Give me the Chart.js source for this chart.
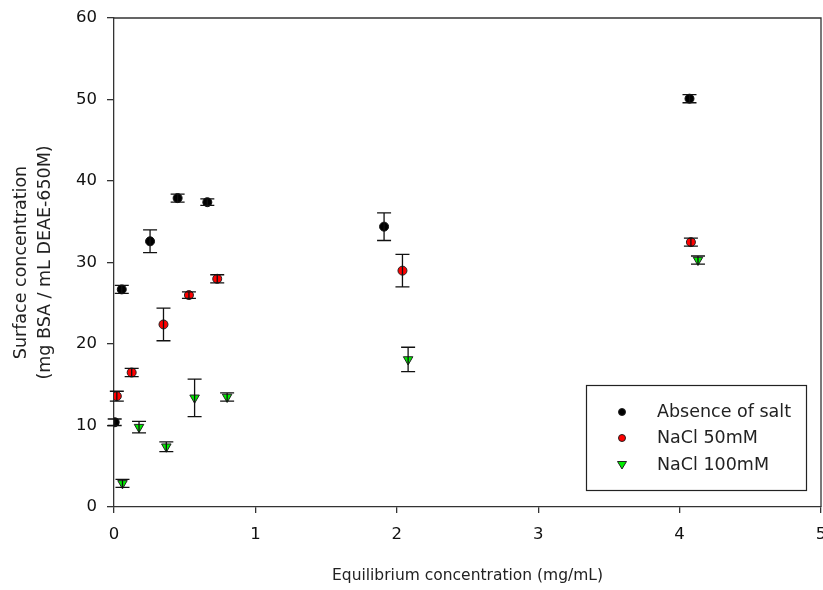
<!DOCTYPE html>
<html>
<head>
<meta charset="utf-8">
<script src="https://cdn.jsdelivr.net/npm/chart.js@4.4.0/dist/chart.umd.min.js"></script>
<style>
  html, body { margin: 0; padding: 0; background: #fff; }
  #wrap { width: 823px; height: 590px; }
</style>
</head>
<body>
<div id="wrap"><canvas id="myChart"></canvas></div>
<script>
// Absence of salt
const xNoSalt = [0.005, 0.055, 0.255, 0.45, 0.66, 1.91, 4.07]
const yNoSalt = [10.4, 26.7, 32.6, 37.9, 37.4, 34.4, 50.1]
const eNoSalt = [0.4, 0.5, 1.4, 0.5, 0.4, 1.7, 0.5]

// NaCl 50mM
const xNaCl50 = [0.02, 0.125, 0.35, 0.53, 0.73, 2.04, 4.08]
const yNaCl50 = [13.6, 16.5, 22.4, 26.0, 28.0, 29.0, 32.5]
const eNaCl50 = [0.6, 0.5, 2.0, 0.4, 0.5, 2.0, 0.5]

// NaCl 100mM
const xNaCl100 = [0.06, 0.177, 0.37, 0.57, 0.80, 2.08, 4.13]
const yNaCl100 = [2.9, 9.8, 7.4, 13.4, 13.5, 18.1, 30.3]
const eNaCl100 = [0.5, 0.7, 0.6, 2.3, 0.5, 1.5, 0.5]

const seriesNames = ['Absence of salt', 'NaCl 50mM', 'NaCl 100mM']
const xTicks = [0, 1, 2, 3, 4, 5]
const yTicks = [0, 10, 20, 30, 40, 50, 60]

const FONT = '"DejaVu Sans", sans-serif'

function pts(xs, ys, es) {
    const out = []
    for (let i = 0; i < xs.length; i++) {
        out[i] = { x: xs[i], y: ys[i], err: es[i] }
    }
    return out
}

// top + right frame lines
const frame = {
    id: 'frame',
    beforeDatasetsDraw(chart) {
        const a = chart.chartArea
        const ctx = chart.ctx
        ctx.save()
        ctx.strokeStyle = '#333'
        ctx.lineWidth = 1.3
        ctx.beginPath()
        ctx.moveTo(a.left, a.top); ctx.lineTo(a.right, a.top); ctx.lineTo(a.right, a.bottom)
        ctx.stroke()
        ctx.restore()
    }
}

const errorBars = {
    id: 'errorBars',
    afterDatasetsDraw(chart) {
        const ctx = chart.ctx
        const xs = chart.scales.x
        const ys = chart.scales.y
        ctx.save()
        ctx.strokeStyle = '#111'
        ctx.lineWidth = 1.3
        chart.data.datasets.forEach(ds => {
            ds.data.forEach(p => {
                const px = xs.getPixelForValue(p.x)
                const top = ys.getPixelForValue(p.y + p.err)
                const bot = ys.getPixelForValue(p.y - p.err)
                ctx.beginPath()
                ctx.moveTo(px, top); ctx.lineTo(px, bot)
                ctx.moveTo(px - 7, top); ctx.lineTo(px + 7, top)
                ctx.moveTo(px - 7, bot); ctx.lineTo(px + 7, bot)
                ctx.stroke()
            })
        })
        ctx.restore()
    }
}

const boxLegend = {
    id: 'boxLegend',
    afterDraw(chart) {
        const ctx = chart.ctx
        ctx.save()
        ctx.strokeStyle = '#222'
        ctx.lineWidth = 1.2
        ctx.strokeRect(586.5, 385.5, 220, 105)
        ctx.font = '17.5px ' + FONT
        ctx.textBaseline = 'middle'
        const rows = [412, 438, 465]
        chart.data.datasets.forEach((ds, i) => {
            const cx = 622, cy = rows[i]
            ctx.fillStyle = ds.backgroundColor
            ctx.strokeStyle = '#222'
            ctx.lineWidth = 1
            ctx.beginPath()
            if (ds.pointStyle === 'triangle') {
                ctx.moveTo(cx - 4.5, cy - 3.5); ctx.lineTo(cx + 4.5, cy - 3.5); ctx.lineTo(cx, cy + 4)
                ctx.closePath()
            } else {
                ctx.arc(cx, cy, 3.5, 0, Math.PI * 2)
            }
            ctx.fill(); ctx.stroke()
            ctx.fillStyle = '#222'
            ctx.fillText(ds.label, 657, cy)
        })
        ctx.restore()
    }
}

const data = {
    datasets: [{
        label: seriesNames[0],
        data: pts(xNoSalt, yNoSalt, eNoSalt),
        backgroundColor: '#000000',
        borderColor: '#111',
        pointStyle: 'circle',
        pointRadius: 4.5,
        borderWidth: 1
    }, {
        label: seriesNames[1],
        data: pts(xNaCl50, yNaCl50, eNaCl50),
        backgroundColor: '#ff0000',
        borderColor: '#222',
        pointStyle: 'circle',
        pointRadius: 4.5,
        borderWidth: 1
    }, {
        label: seriesNames[2],
        data: pts(xNaCl100, yNaCl100, eNaCl100),
        backgroundColor: '#00ee00',
        borderColor: '#222',
        pointStyle: 'triangle',
        pointRotation: 180,
        pointRadius: 5.5,
        borderWidth: 1
    }]
}

const config = {
    type: 'scatter',
    data: data,
    plugins: [frame, errorBars, boxLegend],
    options: {
        responsive: true,
        maintainAspectRatio: false,
        animation: false,
        layout: { autoPadding: false, padding: { top: 18, right: 2, left: 0, bottom: 0 } },
        plugins: { legend: { display: false }, tooltip: { enabled: false } },
        scales: {
            x: {
                type: 'linear',
                min: 0, max: 5,
                afterBuildTicks: s => { s.ticks = xTicks.map(v => ({ value: v })) },
                afterFit: s => { s.height = 83; s.paddingRight = 0; s.paddingLeft = 0 },
                grid: { drawOnChartArea: false, tickLength: 6, color: '#333', lineWidth: 1.3 },
                border: { display: true, color: '#333', width: 1.3 },
                ticks: { color: '#111', font: { family: FONT, size: 16.5 }, padding: 12, maxRotation: 0 },
                title: { display: true, text: 'Equilibrium concentration (mg/mL)', color: '#222',
                         font: { family: FONT, size: 15.5 }, padding: { top: 4, bottom: 5 } }
            },
            y: {
                type: 'linear',
                min: 0, max: 60,
                afterBuildTicks: s => { s.ticks = yTicks.map(v => ({ value: v })) },
                afterFit: s => { s.width = 114; s.paddingTop = 0; s.paddingBottom = 0 },
                grid: { drawOnChartArea: false, tickLength: 7, color: '#333', lineWidth: 1.3 },
                border: { display: true, color: '#333', width: 1.3 },
                ticks: { color: '#111', font: { family: FONT, size: 16.5 }, padding: 10 },
                title: { display: true, text: ['Surface concentration', '(mg BSA / mL DEAE-650M)'], color: '#222',
                         font: { family: FONT, size: 17.5, lineHeight: 1.35 }, padding: { top: 10, bottom: 0 } }
            }
        }
    }
}

const myChart = new Chart(document.getElementById('myChart'), config)
</script>
</body>
</html>
